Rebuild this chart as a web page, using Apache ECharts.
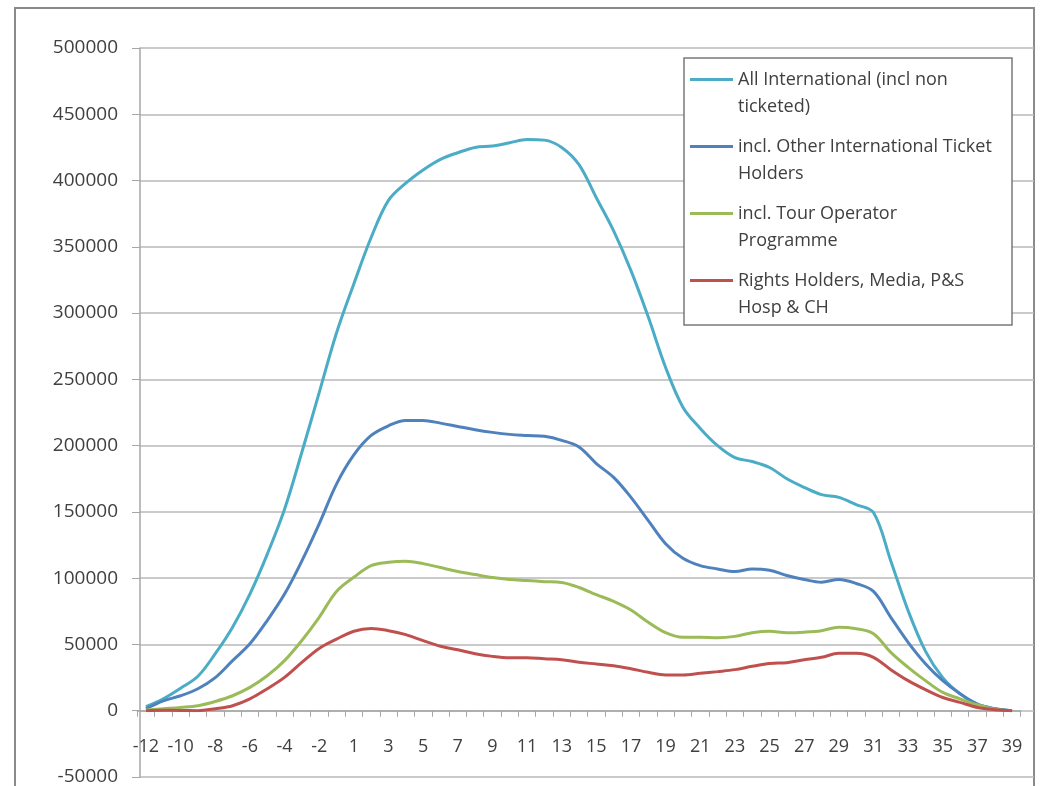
<!DOCTYPE html>
<html>
<head>
<meta charset="utf-8">
<script src="https://cdn.jsdelivr.net/npm/echarts@6/dist/echarts.min.js"></script>
<style>
html,body{margin:0;padding:0;background:#fff;}
#chart{width:1040px;height:786px;}
</style>
</head>
<body>
<div id="chart"></div>
<script>
// ---- data ----
var categories = ['-12','-11','-10','-9','-8','-7','-6','-5','-4','-3','-2','-1',
  '1','2','3','4','5','6','7','8','9','10','11','12','13','14','15','16','17','18','19','20',
  '21','22','23','24','25','26','27','28','29','30','31','32','33','34','35','36','37','38','39'];

var seriesNames = [
  'All International (incl non\nticketed)',
  'incl. Other International Ticket\nHolders',
  'incl. Tour Operator\nProgramme',
  'Rights Holders, Media, P&S\nHosp & CH'
];

var allInternational = [3000,9000,17000,26000,43000,63000,88000,118000,152000,195000,240000,285000,
  322000,357000,385000,398000,408000,416000,421000,425000,426000,428500,431000,430500,425000,412000,387000,362000,332000,297000,259000,229000,
  213000,200000,191000,188000,183500,175000,168500,163000,161000,155500,149500,113000,75500,45000,25000,12800,5000,1500,0];

var otherTicketHolders = [1500,7500,11300,16600,25000,37800,50500,68000,88000,113000,141000,171000,
  193000,207700,215000,219000,219000,217000,214500,212000,210000,208500,207700,207000,204000,199000,186500,176000,161000,143500,126000,115000,
  109500,107000,105000,107000,106000,102000,99000,97000,99000,96000,90000,70500,51600,35500,22700,12800,5000,1500,0];

var tourOperator = [500,1500,2500,3800,7000,11300,17600,26400,37800,53000,70500,90000,
  100700,109500,112000,112800,111000,108000,105000,102700,100500,99000,98200,97400,96700,93000,87600,82500,76000,66700,58900,55400,
  55400,55000,56100,58900,60000,58900,59300,60400,63000,61900,58100,44000,32700,22700,13800,9000,4500,1200,0];

var rightsHolders = [0,300,200,0,1500,3800,9000,16600,25200,36500,47000,54000,
  60000,62000,60400,57400,52900,48600,46000,43000,41000,40000,40000,39200,38500,36500,35300,34000,31700,29000,27000,27000,
  28200,29500,31000,33500,35700,36200,38500,40300,43300,43300,40300,31000,22700,15900,10000,6300,2500,800,0];

var yMin = -50000, yMax = 500000, yStep = 50000;

// ---- chart ----
var FONT = '"Open Sans", "Noto Sans", sans-serif';
var TXT = '#404040';
var colors = ['#4bacc6', '#4f81bd', '#9bbb59', '#c0504d'];
var values = [allInternational, otherTicketHolders, tourOperator, rightsHolders];

// vertical geometry shared by both grids
var TOP = 48, BOTTOM_ALL = 9, H = 786;
var plotH = H - TOP - BOTTOM_ALL;
var zeroFromBottom = BOTTOM_ALL + plotH * (0 - yMin) / (yMax - yMin);

var chart = echarts.init(document.getElementById('chart'));

var series = seriesNames.map(function (n, i) {
  return {
    name: n,
    type: 'line',
    xAxisIndex: 1,
    yAxisIndex: 1,
    data: values[i],
    smooth: 0.35,
    symbol: 'none',
    lineStyle: { color: colors[i], width: 3 },
    itemStyle: { color: colors[i] },
    z: 2 + i * 0.01
  };
});

chart.setOption({
  animation: false,
  backgroundColor: '#ffffff',
  color: colors,
  textStyle: { fontFamily: FONT },
  graphic: [
    {
      type: 'rect', z: 0, silent: true,
      shape: { x: 15, y: 8, width: 1019, height: 800 },
      style: { fill: 'none', stroke: '#8a8a8a', lineWidth: 2 }
    },
    {
      type: 'rect', z: 3, silent: true,
      shape: { x: 684, y: 58, width: 328, height: 267 },
      style: { fill: '#ffffff', stroke: '#7a7a7a', lineWidth: 1.5 }
    }
  ],
  grid: [
    { left: 140, right: 6, top: TOP, bottom: BOTTOM_ALL, containLabel: false, outerBoundsMode: 'none' },
    { left: 137.3, right: 19.3, top: TOP, bottom: zeroFromBottom, containLabel: false, outerBoundsMode: 'none' }
  ],
  xAxis: [
    { gridIndex: 0, type: 'value', show: false, min: 0, max: 1 },
    {
      gridIndex: 1, type: 'category', data: categories, boundaryGap: true, position: 'bottom',
      axisLine: { show: true, onZero: false, lineStyle: { color: '#a6a6a6', width: 1.5 } },
      axisTick: { show: true, interval: 0, length: 6, lineStyle: { color: '#a6a6a6' } },
      axisLabel: { show: true, interval: 1, margin: 27, fontSize: 18, color: TXT, fontFamily: FONT,
        hideOverlap: false },
      splitLine: { show: false }
    }
  ],
  yAxis: [
    {
      gridIndex: 0, type: 'value', min: yMin, max: yMax, interval: yStep,
      axisLine: { show: true, lineStyle: { color: '#a6a6a6', width: 1.5 } },
      axisTick: { show: true, length: 8, lineStyle: { color: '#a6a6a6' } },
      axisLabel: { margin: 22, fontSize: 19, color: TXT, fontFamily: FONT,
        formatter: function (v) { return String(v); } },
      splitLine: { show: true, lineStyle: { color: '#b8b8b8', width: 1.5 } }
    },
    { gridIndex: 1, type: 'value', min: 0, max: yMax, interval: yStep, show: false,
      splitLine: { show: false } }
  ],
  legend: {
    orient: 'vertical',
    left: 690,
    top: 39,
    padding: 0,
    itemGap: -14,
    itemWidth: 43,
    itemHeight: 3,
    icon: 'rect',
    selectedMode: false,
    z: 4,
    data: seriesNames,
    formatter: function (name) { return '\n' + name; },
    textStyle: {
      fontSize: 18, lineHeight: 27, color: TXT, fontFamily: FONT
    }
  },
  series: series
});
</script>
</body>
</html>
